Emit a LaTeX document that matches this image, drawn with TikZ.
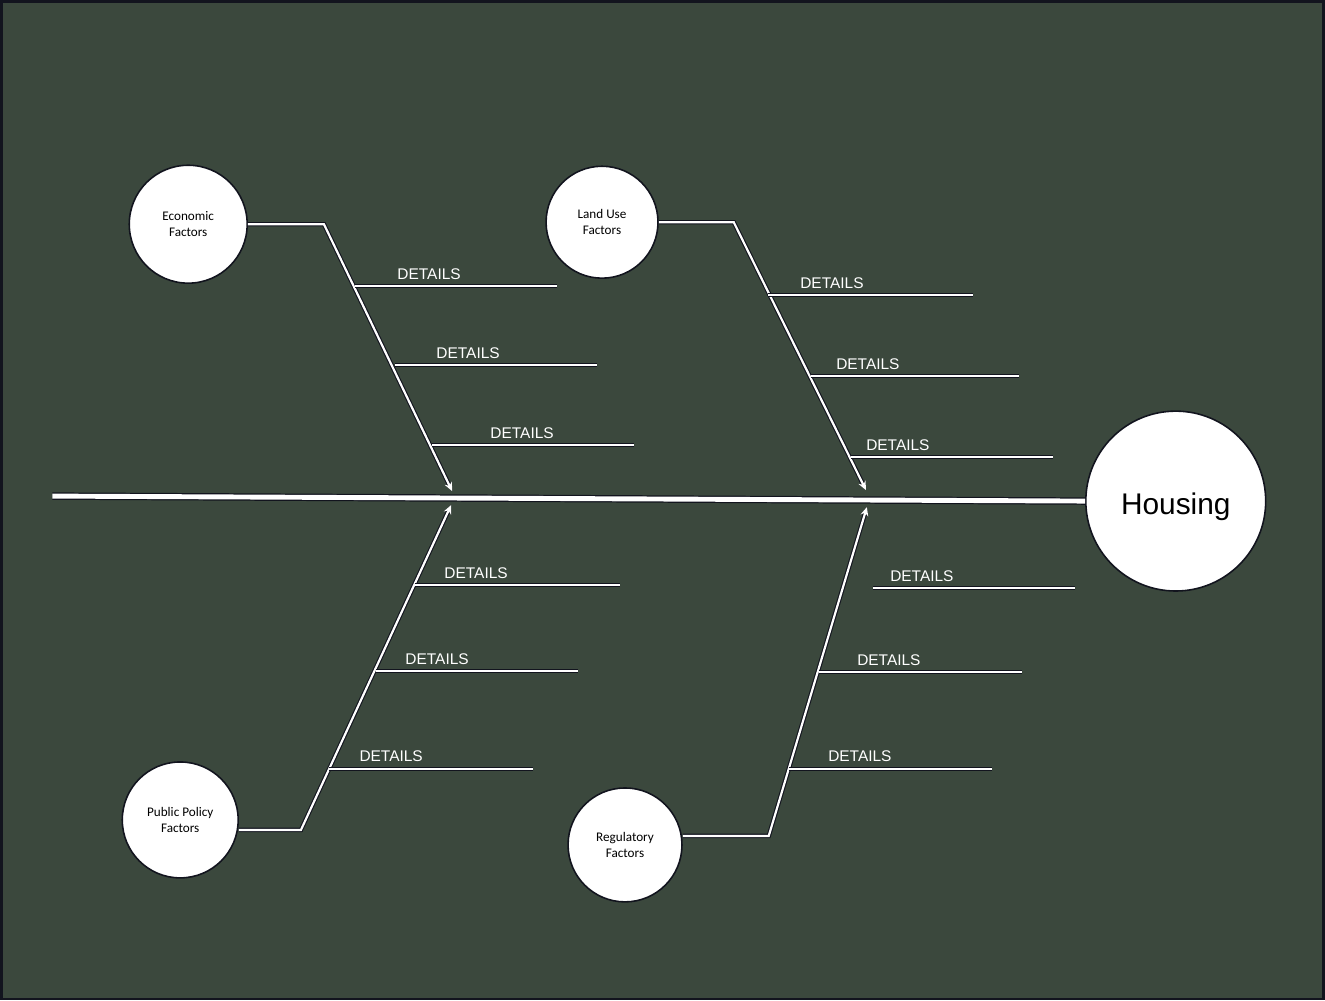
\documentclass[tikz,border=0pt]{standalone}
\usepackage{fontspec}
\setmainfont{Liberation Sans}
\newfontfamily\circfont{Carlito}
\usetikzlibrary{arrows.meta}
\definecolor{bg}{RGB}{59,72,61}
\definecolor{edge}{RGB}{18,20,30}
\begin{document}
\begin{tikzpicture}[x=0.02cm,y=-0.02cm,
  cause/.style={circle, fill=white, draw=edge, line width=0.9pt, inner sep=0pt,
    font=\circfont\fontsize{7.5}{9}\selectfont, align=center},
  bone/.style={draw=white, line width=1.25pt, preaction={draw=edge, line width=2.5pt}},
  spine/.style={draw=white, line width=2.8pt, preaction={draw=edge, line width=4.2pt}},
  tip/.style={-{Stealth[length=5pt,width=4.5pt]}},
  lbl/.style={text=white, font=\fontsize{8.8}{10}\selectfont, inner sep=0pt, anchor=base west}]
\fill[bg, draw=edge, line width=1.5pt] (1,1) rectangle (1324,999);
\useasboundingbox (0,0) rectangle (1325,1000);

\node[cause, minimum size=2.36cm] (econ) at (188,224) {Economic\\Factors};
\node[cause, minimum size=2.24cm] (land) at (602,222) {Land Use\\Factors};
\node[cause, minimum size=2.32cm] (policy) at (180,820) {Public Policy\\Factors};
\node[cause, minimum size=2.28cm] (reg) at (625,845) {Regulatory\\Factors};
\node[cause, minimum size=3.6cm, font=\fontsize{17}{20}\selectfont] (housing) at (1176,501)
  {\raisebox{-3.5pt}[\height][\depth]{Housing}};

\coordinate (spineL) at (52,496);
\coordinate (econTip) at (452,491);
\coordinate (landTip) at (866,490);
\coordinate (policyTip) at (451,505);
\coordinate (regTip) at (867,507);

\draw[spine] (spineL) -- (housing.west);

\draw[bone,tip] (econ.east) -- ++(76,0) -- (econTip);
\draw[bone,tip] (land.east) -- ++(75,0) -- (landTip);
\draw[bone,tip] ([yshift=-0.2cm]policy.east) -- ++(62,0) -- (policyTip);
\draw[bone,tip] ([yshift=0.18cm]reg.east) -- ++(86,0) -- (regTip);

\foreach \y/\a/\b/\t [count=\i] in {
  286/355/557/397, 365/395/597/436, 445/432/634/490,
  295/768/973/800, 376/811/1019/836, 457/851/1053/866,
  585/415/620/444, 671/376/578/405, 769/329/533/359,
  588/873/1075/890, 672/819/1022/857, 769/789/992/828}{
  \draw[bone] (\a,\y) coordinate (s\i) -- (\b,\y) coordinate (e\i);
  \node[lbl] (d\i) at (\t,\y-7) {DETAILS};
}
\end{tikzpicture}
\end{document}
